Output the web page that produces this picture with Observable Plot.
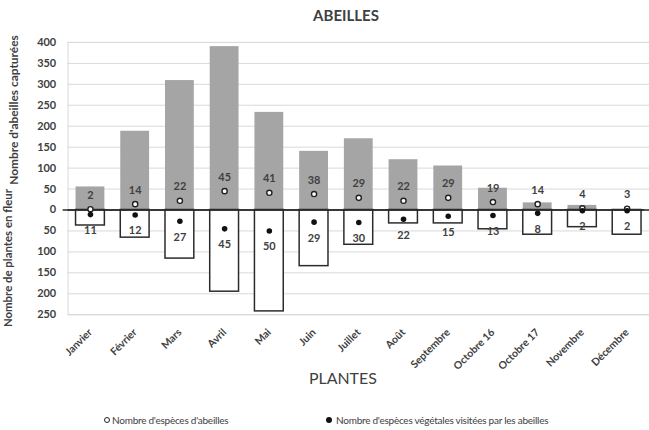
<!DOCTYPE html>
<html>
<head>
<meta charset="utf-8">
<script src="https://cdn.jsdelivr.net/npm/d3@7"></script>
<script src="https://cdn.jsdelivr.net/npm/@observablehq/plot@0.6"></script>
<style>
  html, body { margin: 0; padding: 0; background: #fff; overflow: hidden; width: 649px; height: 430px; }
  body { font-family: Lato, "Open Sans", sans-serif; position: relative; }
  #title { position: absolute; left: 0; top: 0; width: 692px; height: 30px; text-align: center; line-height: 30px; font-size: 15px; font-weight: bold; color: #404040; }
  #chart { position: absolute; left: 0; top: 30px; }
  .leg { position: absolute; top: 412px; font-size: 10px; color: #404040; white-space: nowrap; line-height: 16px; letter-spacing: -0.25px; }
  .mk { position: absolute; top: 417px; width: 6px; height: 6px; border-radius: 50%; box-sizing: border-box; }
</style>
</head>
<body>
<div id="title">ABEILLES</div>
<div id="chart"></div>
<span class="mk" style="left:104px;border:1.5px solid #222;background:#fff"></span>
<span class="leg" style="left:112px">Nombre d'espèces d'abeilles</span>
<span class="mk" style="left:326px;background:#111"></span>
<span class="leg" style="left:336px">Nombre d'espèces végétales visitées par les abeilles</span>
<script>
const mois = ["Janvier", "Février", "Mars", "Avril", "Mai", "Juin", "Juillet", "Août", "Septembre", "Octobre 16", "Octobre 17", "Novembre", "Décembre"];
const abeillesCapturees = [55, 188, 309, 390, 233, 140, 170, 120, 105, 52, 17, 11, 0];
const plantesEnFleur = [37, 66, 116, 195, 242, 134, 83, 32, 32, 46, 59, 41, 59];
const especesAbeilles = [2, 14, 22, 45, 41, 38, 29, 22, 29, 19, 14, 4, 3];
const especesVegetales = [11, 12, 27, 45, 50, 29, 30, 22, 15, 13, 8, 2, 2];
const yTicks = [-250, -200, -150, -100, -50, 0, 50, 100, 150, 200, 250, 300, 350, 400];

const data = mois.map((m, i) => ({
  mois: m,
  abeilles: abeillesCapturees[i],
  plantes: -plantesEnFleur[i],
  spA: especesAbeilles[i],
  spV: -especesVegetales[i],
  labV: especesVegetales[i]
}));

const labelFont = {fontSize: 11, fontWeight: "bold", fill: "#404040"};

const plot = Plot.plot({
  width: 653,
  height: 365,
  marginLeft: 68,
  marginRight: 0,
  marginTop: 12,
  marginBottom: 79,
  style: {fontFamily: "Lato, 'Open Sans', sans-serif", color: "#404040", background: "white"},
  x: {domain: mois, paddingInner: 0.36, paddingOuter: 0.18, label: null},
  y: {domain: [-250, 400], label: null},
  marks: [
    Plot.gridY(yTicks, {stroke: "#d9d9d9", strokeOpacity: 1, strokeWidth: 1}),
    Plot.frame({stroke: "#d9d9d9"}),
    Plot.barY(data, {x: "mois", y: "abeilles", fill: "#a5a5a5"}),
    Plot.barY(data, {x: "mois", y: "plantes", fill: "white", stroke: "#2b2b2b", strokeWidth: 1.5}),
    Plot.ruleY([0], {stroke: "#2b2b2b", strokeWidth: 1.6}),
    Plot.ruleY([0], {stroke: "#2b2b2b", strokeWidth: 1.6, dx: -5}),
    Plot.dot(data, {x: "mois", y: "spA", r: 2.6, stroke: "#222", strokeWidth: 1.4, fill: "white"}),
    Plot.dot(data, {x: "mois", y: "spV", r: 2.8, fill: "#111"}),
    Plot.text(data, {x: "mois", y: "spA", text: "spA", dy: -14, ...labelFont}),
    Plot.text(data, {x: "mois", y: "spV", text: "labV", dy: 16, ...labelFont}),
    Plot.axisY(yTicks, {tickSize: 0, tickPadding: 12, tickFormat: Math.abs, fontSize: 11, fontWeight: "bold", fill: "#404040", label: null}),
    Plot.axisX({tickSize: 0, tickPadding: 16, tickRotate: -45, fontSize: 10.5, fontWeight: "bold", fill: "#404040", label: null}),
    Plot.text(["Nombre d'abeilles capturées"], {frameAnchor: "top-left", text: d => d, rotate: -90, dx: -54, dy: 68, textAnchor: "middle", lineAnchor: "middle", fontSize: 12, fontWeight: "bold", fill: "#404040"}),
    Plot.text(["Nombre de plantes en fleur"], {frameAnchor: "bottom-left", text: d => d, rotate: -90, dx: -60, dy: -57, textAnchor: "middle", lineAnchor: "middle", fontSize: 11.5, fontWeight: "bold", fill: "#404040"}),
    Plot.text(["PLANTES"], {frameAnchor: "bottom", text: d => d, dy: 65, dx: -16, lineAnchor: "middle", fontSize: 16, fill: "#404040"})
  ]
});
document.getElementById("chart").appendChild(plot);
</script>
</body>
</html>
